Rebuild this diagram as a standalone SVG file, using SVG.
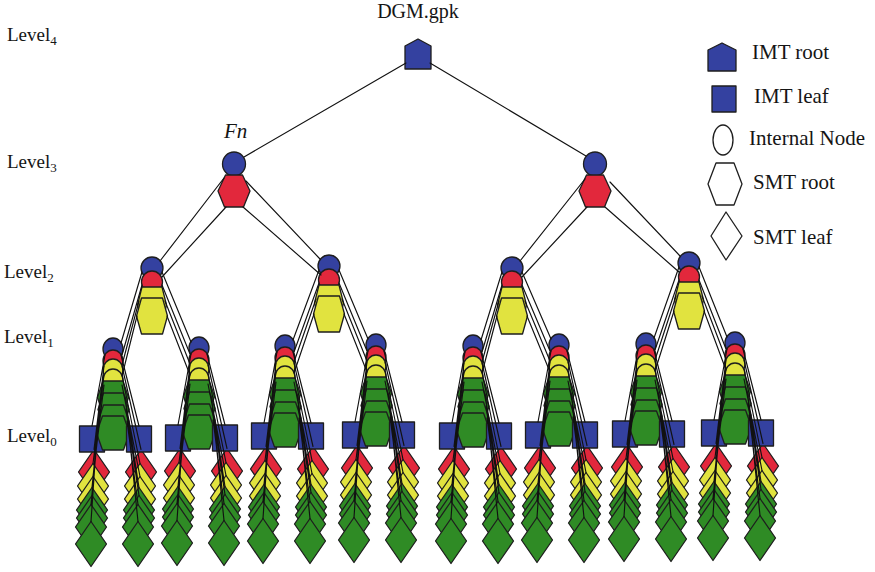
<svg xmlns="http://www.w3.org/2000/svg" xmlns:xlink="http://www.w3.org/1999/xlink" width="875" height="572" viewBox="0 0 875 572">
  <style>
    .st{stroke:#1e1e1e;stroke-width:1.3;stroke-linejoin:round}
    .b{fill:#3441a0}
    .r{fill:#e2283c}
    .y{fill:#e1e33f}
    .g{fill:#2f8b25}
    .w{fill:#ffffff}
    .ln{stroke:#111111;stroke-width:1.15;fill:none;stroke-linecap:round}
    text{font-family:"Liberation Serif","Times New Roman",serif;fill:#151515}
    .lv{font-size:19px}
    .sub{font-size:13px}
    .lg{font-size:21px}
  </style>
  <defs>
    <!-- basic shapes -->
    <polygon id="dm" points="0,-22.5 15.5,0 0,22.5 -15.5,0"/>
    <polygon id="hxg" points="-10,0 10,0 15.5,16.5 10,33 -10,33 -15.5,16.5"/>
    <polygon id="hxg2" points="-10.5,0 10.5,0 16.5,17 10.5,34 -10.5,34 -16.5,17"/>

    <!-- leaf column: SMT leaves under an IMT leaf -->
    <g id="column" class="st">
      <use href="#dm" class="r" x="2" y="134"/>
      <use href="#dm" class="y" x="1" y="148"/>
      <use href="#dm" class="y" x="1" y="161"/>
      <use href="#dm" class="g" x="0" y="172"/>
      <use href="#dm" class="g" x="0" y="180"/>
      <use href="#dm" class="g" x="-1" y="189"/>
      <use href="#dm" class="g" x="-1" y="206"/>
      <rect class="b" x="-12.5" y="88" width="25" height="26"/>
    </g>

    <!-- level 1 node stack -->
    <g id="stack1" class="st">
      <ellipse class="b" cx="0" cy="11" rx="10" ry="11"/>
      <ellipse class="r" cx="0" cy="23" rx="10" ry="11"/>
      <ellipse class="y" cx="0" cy="32" rx="10" ry="11"/>
      <ellipse class="y" cx="0" cy="42" rx="10" ry="11"/>
      <use href="#hxg" class="g" x="0" y="43"/>
      <use href="#hxg" class="g" x="0.5" y="55"/>
      <use href="#hxg" class="g" x="0.5" y="67"/>
      <use href="#hxg2" class="g" x="0" y="78"/>
    </g>

    <!-- level 2 node stack -->
    <g id="stack2" class="st">
      <ellipse class="b" cx="0" cy="11" rx="11" ry="11"/>
      <ellipse class="r" cx="0" cy="25" rx="10.5" ry="11"/>
      <polygon class="y" points="-10,30 10,30 14.5,48 10,66 -10,66 -14.5,48"/>
      <polygon class="y" points="-10.5,41 10.5,41 15.5,59 10.5,77 -10.5,77 -15.5,59"/>
    </g>

    <!-- level 3 node stack -->
    <g id="stack3" class="st">
      <ellipse class="b" cx="0" cy="164" rx="11.5" ry="12"/>
      <polygon class="r" points="-8.5,175 8.5,175 16,191 9.5,207 -9.5,207 -16,191"/>
    </g>

    <!-- edges from a level 1 node down to its two leaf columns -->
    <path id="unitLines" class="ln" d="M-8,17L-21,88 M-9,28L-19,111.5 M-9,37L-20,125.5 M-9,47L-20,138.5 M-12,59L-21,149.5 M-13,71L-21,157.5 M-14,83L-22,166.5 M-16,95L-22,183.5 M8,17L26,88 M9,28L28,111.5 M9,37L27,125.5 M9,47L27,138.5 M12,59L26,149.5 M13,71L26,157.5 M14,83L25,166.5 M16,95L25,183.5"/>
  </defs>

  <rect x="0" y="0" width="875" height="572" fill="#ffffff"/>

  <!-- level labels -->
  <g id="labels">
    <text class="lv" x="7" y="41">Level<tspan class="sub" dy="4">4</tspan></text>
    <text class="lv" x="7" y="168">Level<tspan class="sub" dy="4">3</tspan></text>
    <text class="lv" x="4" y="278">Level<tspan class="sub" dy="4">2</tspan></text>
    <text class="lv" x="4" y="343">Level<tspan class="sub" dy="4">1</tspan></text>
    <text class="lv" x="7" y="442">Level<tspan class="sub" dy="4">0</tspan></text>
    <text x="418" y="18" font-size="20" text-anchor="middle">DGM.gpk</text>
    <text x="224" y="138" font-size="21" font-style="italic">Fn</text>
  </g>

  <!-- root -->
  <g id="root">
    <polygon class="b st" points="418,39 431,46 431,69 405,69 405,46"/>
  </g>

  <!-- level 3 -->
  <g id="L3-1"><use href="#stack3" x="234" y="0"/></g>
  <g id="L3-2"><use href="#stack3" x="595" y="0"/></g>

  <!-- level 2 -->
  <g id="L2-1"><use href="#stack2" x="152" y="257"/></g>
  <g id="L2-2"><use href="#stack2" x="329" y="255"/></g>
  <g id="L2-3"><use href="#stack2" x="512" y="257"/></g>
  <g id="L2-4"><use href="#stack2" x="689" y="252"/></g>

  <!-- level 1 nodes with their level 0 leaf columns -->
  <g id="L0-1"><use href="#column" x="92" y="338"/></g>
  <g id="L1-1"><use href="#stack1" x="113" y="338"/></g>
  <g id="L0-2"><use href="#column" x="139" y="338"/></g>

  <g id="L0-3"><use href="#column" x="178" y="337"/></g>
  <g id="L1-2"><use href="#stack1" x="199" y="337"/></g>
  <g id="L0-4"><use href="#column" x="225" y="337"/></g>

  <g id="L0-5"><use href="#column" x="264" y="335"/></g>
  <g id="L1-3"><use href="#stack1" x="285" y="335"/></g>
  <g id="L0-6"><use href="#column" x="311" y="335"/></g>

  <g id="L0-7"><use href="#column" x="355" y="334"/></g>
  <g id="L1-4"><use href="#stack1" x="376" y="334"/></g>
  <g id="L0-8"><use href="#column" x="402" y="334"/></g>

  <g id="L0-9"><use href="#column" x="452" y="335"/></g>
  <g id="L1-5"><use href="#stack1" x="473" y="335"/></g>
  <g id="L0-10"><use href="#column" x="499" y="335"/></g>

  <g id="L0-11"><use href="#column" x="538" y="334"/></g>
  <g id="L1-6"><use href="#stack1" x="559" y="334"/></g>
  <g id="L0-12"><use href="#column" x="585" y="334"/></g>

  <g id="L0-13"><use href="#column" x="625" y="333"/></g>
  <g id="L1-7"><use href="#stack1" x="646" y="333"/></g>
  <g id="L0-14"><use href="#column" x="672" y="333"/></g>

  <g id="L0-15"><use href="#column" x="714" y="332"/></g>
  <g id="L1-8"><use href="#stack1" x="735" y="332"/></g>
  <g id="L0-16"><use href="#column" x="761" y="332"/></g>

  <!-- connectors -->
  <g id="connectors">
    <path class="ln" d="M406,63L244,157 M430,63L586,156"/>
    <path class="ln" d="M224,178L160,261 M226,207L162,277 M246,181L320,259 M243,207L321,275 M585,179L520,261 M587,207L522,277 M610,182L680,256 M605,207L679,272"/>
    <path class="ln" d="M142,272L121,343 M142,285L122,355 M139,301L122,365 M137,316L122,376 M162,272L191,342 M162,285L190,354 M165,301L190,364 M167,316L190,375"/>
    <path class="ln" d="M319,270L293,340 M319,283L294,352 M316,299L294,362 M314,314L294,373 M339,270L368,339 M339,283L367,351 M342,299L367,361 M344,314L367,372"/>
    <path class="ln" d="M502,272L481,340 M502,285L482,352 M499,301L482,362 M497,316L482,373 M522,272L551,339 M522,285L550,351 M525,301L550,361 M527,316L550,372"/>
    <path class="ln" d="M679,267L654,338 M679,280L655,350 M676,296L655,360 M674,311L655,371 M699,267L727,337 M699,280L726,349 M702,296L726,359 M704,311L726,370"/>
    <use href="#unitLines" x="113" y="338"/>
    <use href="#unitLines" x="199" y="337"/>
    <use href="#unitLines" x="285" y="335"/>
    <use href="#unitLines" x="376" y="334"/>
    <use href="#unitLines" x="473" y="335"/>
    <use href="#unitLines" x="559" y="334"/>
    <use href="#unitLines" x="646" y="333"/>
    <use href="#unitLines" x="735" y="332"/>
  </g>

  <!-- legend -->
  <g id="legend">
    <g id="lg-imt-root">
      <polygon class="b st" points="722,43 736,50 736,71 708,71 708,50"/>
      <text class="lg" x="752" y="59">IMT root</text>
    </g>
    <g id="lg-imt-leaf">
      <rect class="b st" x="712" y="86" width="24" height="26"/>
      <text class="lg" x="754" y="103">IMT leaf</text>
    </g>
    <g id="lg-internal">
      <ellipse class="w st" cx="723" cy="140" rx="10" ry="15"/>
      <text class="lg" x="749" y="145">Internal Node</text>
    </g>
    <g id="lg-smt-root">
      <polygon class="w st" points="716,163 734,163 742,184 734,205 716,205 708,184"/>
      <text class="lg" x="753" y="189">SMT root</text>
    </g>
    <g id="lg-smt-leaf">
      <polygon class="w st" points="726,212 742,236 726,260 711,236"/>
      <text class="lg" x="753" y="244">SMT leaf</text>
    </g>
  </g>
</svg>
